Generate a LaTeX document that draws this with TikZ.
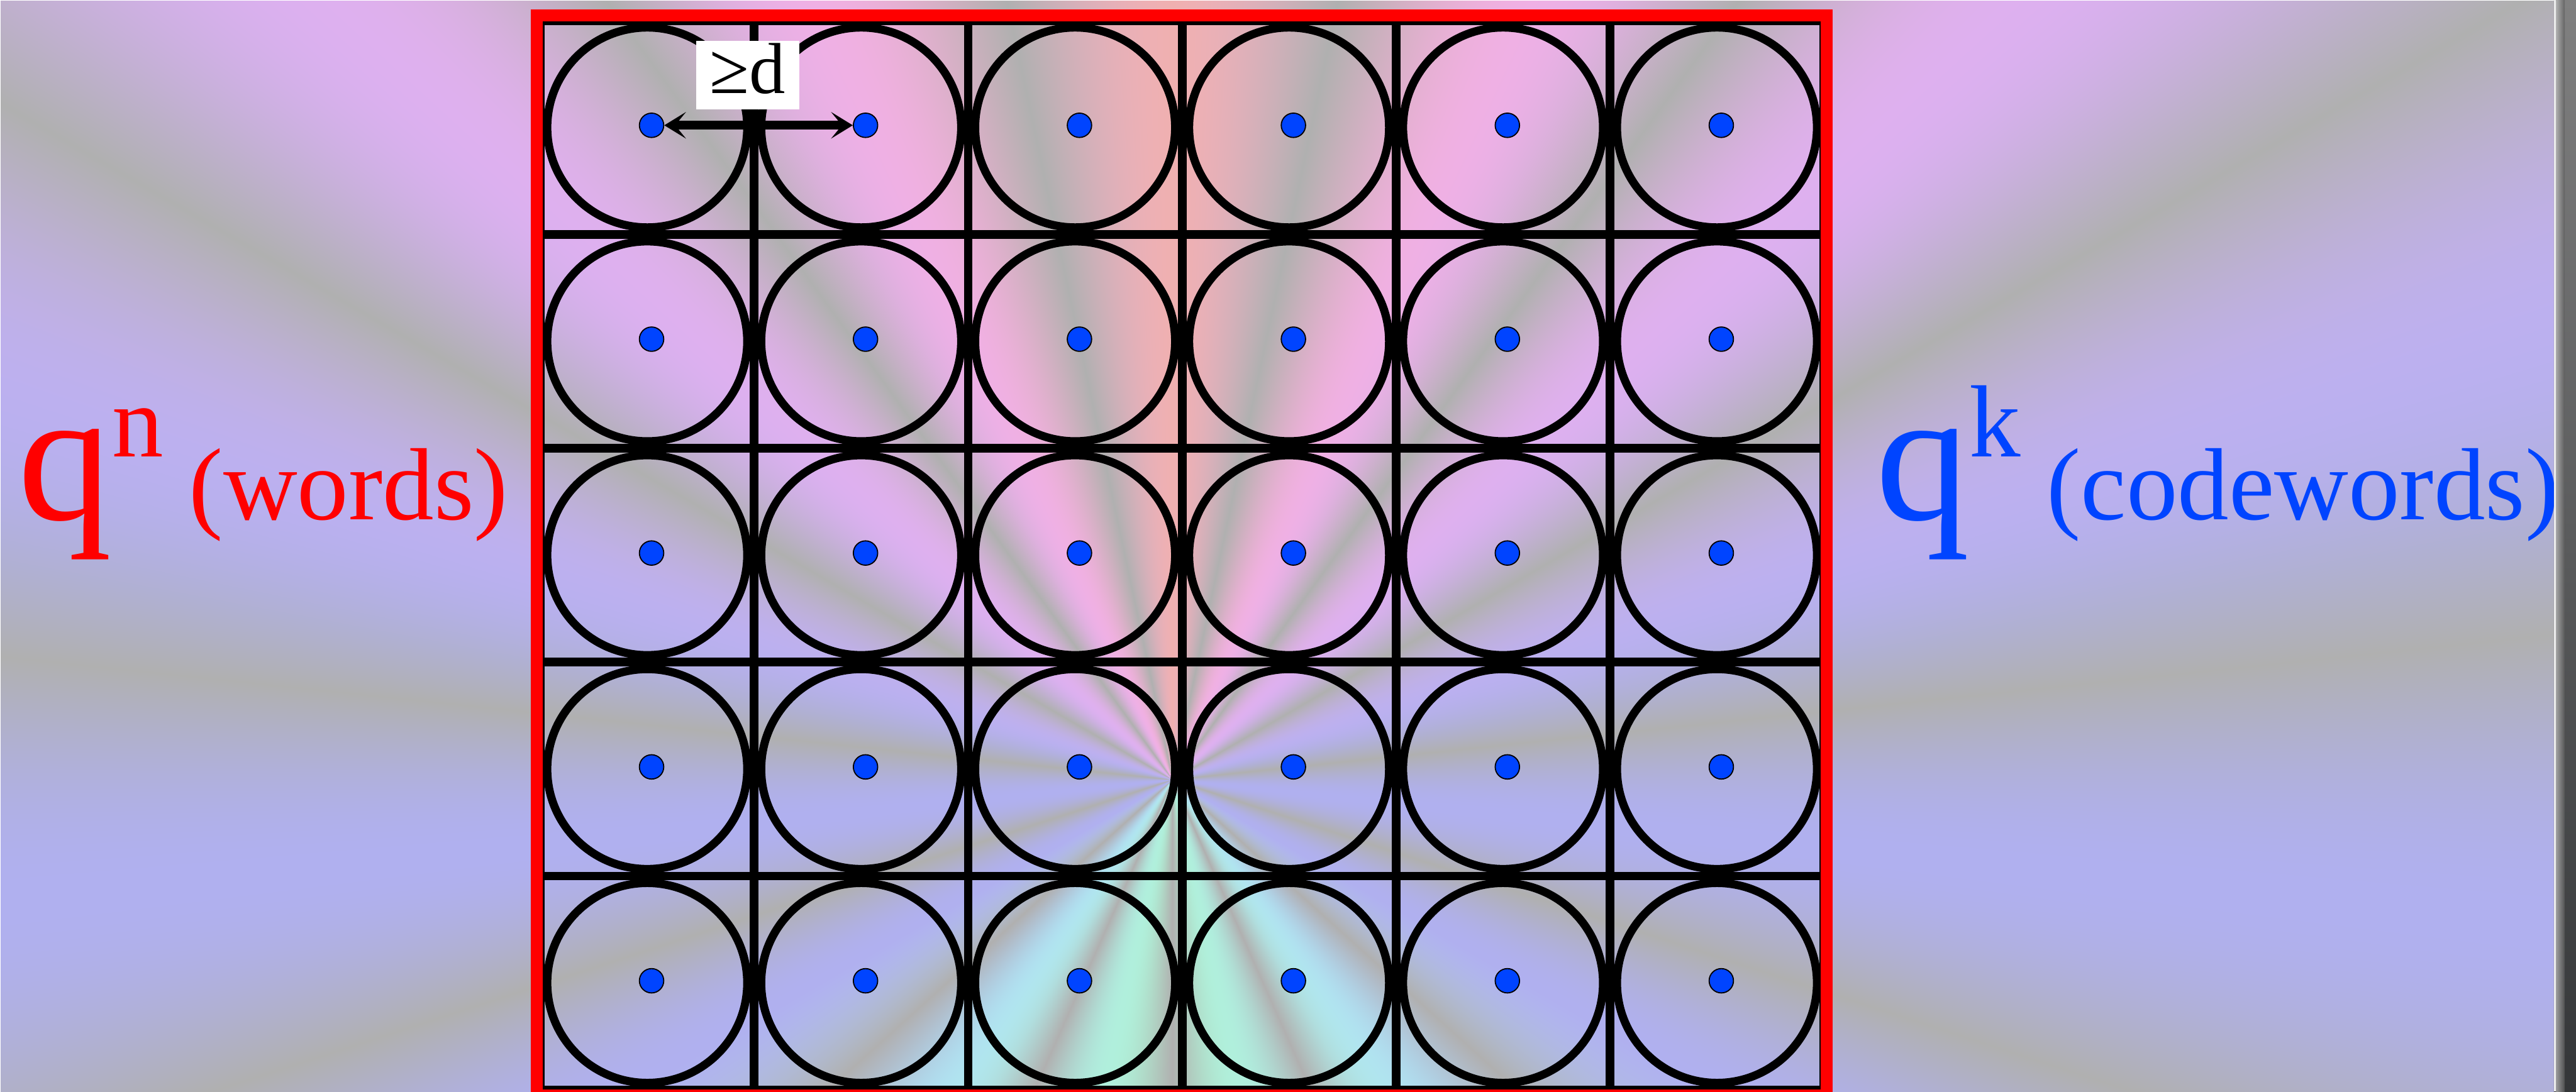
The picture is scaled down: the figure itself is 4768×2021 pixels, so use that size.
\documentclass[tikz,border=0pt]{standalone}
\usepackage{fontspec}
\setmainfont{Liberation Serif}
\usepackage{tikz}
\usetikzlibrary{arrows.meta, calc, positioning}

\definecolor{wordred}{RGB}{255,0,0}
\definecolor{codeblue}{RGB}{0,68,255}
\definecolor{shadowtop}{RGB}{128,128,128}
\definecolor{shadowbot}{RGB}{52,54,56}

% rays round the middle of the grid, gray between them
\pgfdeclarefunctionalshading{raybg}{\pgfpointorigin}{\pgfpoint{1351.56bp}{572.88bp}}{}{%
  164.13 sub exch 614.55 sub exch atan
  dup 180 gt {360 exch sub} if
  dup 7.5 mul cos abs 0.8 mul
  1 index 35 sub 45 div dup 0 lt {pop 0} if dup 1 gt {pop 1} if
  1 exch sub 0.31 mul 1 index mul 0.69 add
  2 index 120 sub 30 div dup 0 lt {pop 0} if dup 1 gt {pop 1} if
  0.31 mul 2 index mul 0.69 add
  3 index 30 div dup 1 gt {pop 1} if 0.31 mul
  4 index 150 sub 30 div dup 0 lt {pop 0} if 0.16 mul sub
  3 index mul 0.69 add
  5 -2 roll pop pop
}

\begin{document}
\begin{tikzpicture}[x=0.01cm, y=-0.01cm,
  gridline/.style={line width=4.55pt, black},
  ball/.style={circle, draw=black, line width=4.3pt, minimum size=3.7cm, inner sep=0pt},
  word/.style={circle, fill=codeblue, draw=black, line width=0.6pt, minimum size=0.45cm, inner sep=0pt},
  bigtext/.style={anchor=base west, inner sep=0pt},
  >={Stealth[length=0.4cm, width=0.49cm, inset=0.2cm]}]
  \useasboundingbox (0,0) rectangle (4768,2021);
  \clip (0,0) rectangle (4768,2021);
  \node[inner sep=0pt, anchor=north west] (bg) at (0,0) {\pgfuseshading{raybg}};

  % q^n words, 6x5 cells
  \foreach \i in {0,...,6} {\draw[gridline] ({1000+396*\i},38) -- ++(0,1980);}
  \foreach \j in {0,...,5} {\draw[gridline] (1000,{38+396*\j}) -- ++(2376,0);}
  \foreach \r in {1,...,5} {
    \foreach \c in {1,...,6} {
      \node[ball] (c-\r-\c) at ({1198+396*(\c-1)},{236+396*(\r-1)}) {};
    }
  }
  \draw[wordred, line width=6.26pt] (994,28) rectangle (3381,2028);

  % codewords
  \foreach \r in {1,...,5} {
    \foreach \c in {1,...,6} {
      \node[word] (p-\r-\c) at ({1206+396*(\c-1)},{232+396*(\r-1)}) {};
    }
  }
  \draw[<->, line width=4.55pt] (p-1-1) -- (p-1-2);
  \node[fill=white, inner sep=0pt, minimum width=1.9cm, text height=0.97cm, text depth=0.3cm,
        anchor=base, font=\fontsize{38pt}{38pt}\selectfont] (dist) at (1384,173) {≥d};

  \node[bigtext, text=wordred] (words) at (33,962)
    {\fontsize{99pt}{99pt}\selectfont q\fontsize{54pt}{54pt}\selectfont\raisebox{33pt}{n} (words)};
  \node[bigtext, text=codeblue] (codewords) at (3471,962)
    {\fontsize{99pt}{99pt}\selectfont q\fontsize{54pt}{54pt}\selectfont\raisebox{33pt}{k} (codewords)};

  % window edge on the right
  \shade[top color=shadowtop, bottom color=shadowbot] (4727,0) rectangle (4768,2021);
  \shade[left color=gray!45, right color=shadowtop!70!black, opacity=0.7] (4731,0) rectangle (4747,2021);
  \fill[gray!15] (4727,0) rectangle (4731,2021);
\end{tikzpicture}
\end{document}
